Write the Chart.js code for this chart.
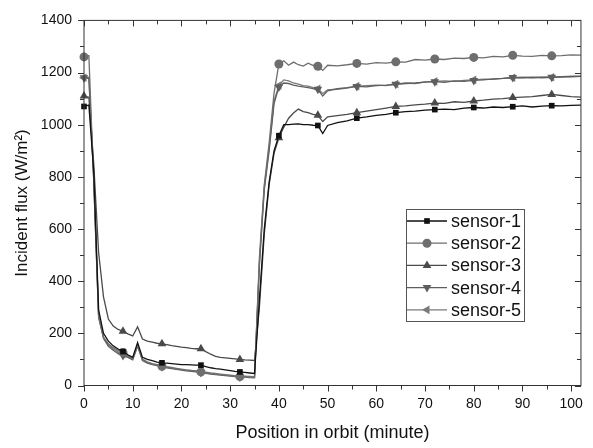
<!DOCTYPE html>
<html>
<head>
<meta charset="utf-8">
<script src="https://cdn.jsdelivr.net/npm/chart.js@4/dist/chart.umd.min.js"></script>
<style>
  html, body { margin: 0; background: #fff; }
  #wrap { width: 593px; height: 448px; }
</style>
</head>
<body>
<div id="wrap"><canvas id="chart"></canvas></div>
<script>
// position in orbit (minute)
const minutes = [0,1,2,3,4,5,6,7,8,9,10,11,12,13,14,15,16,17,18,19,20,21,22,23,24,25,26,27,28,29,30,31,32,33,34,35,36,37,38,39,40,
  41,42,43,44,45,46,47,48,49,50,52,54,56,58,60,62,64,66,68,70,72,74,76,78,80,82,84,86,88,90,92,94,96,98,100,102];

const sensor1 = [1070,1075,820,290,200,170,152,140,130,118,108,165,108,100,95,90,87,86,84,82,80,80,79,78,78,72,68,65,63,60,57,54,52,50,48,46,330,600,780,900,958,
  1000,1000,1002,1003,1000,1000,998,997,966,997,1008,1015,1025,1030,1036,1040,1046,1050,1052,1056,1058,1060,1058,1064,1066,1064,1068,1066,1069,1072,1068,1071,1073,1072,1074,1075];
const sensor2 = [1260,1265,780,260,185,160,145,135,127,115,103,155,100,90,83,78,74,70,67,64,61,59,57,55,52,49,46,44,42,40,38,36,34,33,32,31,490,770,930,1120,1233,
  1245,1228,1240,1230,1225,1236,1228,1224,1208,1228,1226,1230,1235,1232,1238,1236,1241,1240,1250,1248,1252,1250,1255,1254,1258,1256,1262,1260,1266,1263,1262,1266,1264,1265,1268,1267];
const sensor3 = [1110,1105,850,510,340,255,228,215,208,198,190,225,178,170,166,162,160,157,153,150,147,145,142,141,141,130,120,112,108,106,104,102,100,98,97,96,300,580,770,890,950,
  990,1025,1045,1060,1050,1046,1040,1036,1012,1030,1035,1040,1046,1052,1058,1064,1070,1072,1076,1079,1083,1082,1088,1086,1091,1094,1098,1100,1104,1106,1108,1112,1116,1112,1108,1106];
const sensor4 = [1180,1178,790,265,180,150,135,122,115,108,98,150,96,86,80,76,72,68,65,62,59,56,54,52,50,47,44,42,40,38,36,34,33,32,30,29,460,750,900,1080,1145,
  1160,1158,1152,1148,1145,1142,1138,1136,1110,1130,1138,1142,1147,1145,1150,1152,1155,1158,1160,1163,1165,1162,1168,1166,1170,1172,1176,1178,1181,1180,1182,1180,1182,1183,1184,1185];
const sensor5 = [1180,1182,800,270,185,155,140,128,120,112,102,158,100,90,84,80,76,72,69,66,63,60,58,56,54,51,48,46,44,42,40,38,37,36,35,34,470,760,910,1090,1150,
  1172,1168,1160,1156,1150,1148,1142,1138,1120,1134,1136,1140,1148,1150,1152,1150,1156,1160,1158,1164,1166,1168,1166,1170,1172,1175,1174,1178,1180,1182,1180,1183,1182,1184,1186,1186];

const seriesNames = ['sensor-1', 'sensor-2', 'sensor-3', 'sensor-4', 'sensor-5'];
const xTicks = [0, 10, 20, 30, 40, 50, 60, 70, 80, 90, 100];
const yTicks = [0, 200, 400, 600, 800, 1000, 1200, 1400];

const FONT = "'Liberation Sans', Arial, Helvetica, sans-serif";
const styles = [
  { color: '#111111', pointStyle: 'rect', rotation: 0, radius: 4 },
  { color: '#6e6e6e', pointStyle: 'circle', rotation: 0, radius: 4.5 },
  { color: '#4a4a4a', pointStyle: 'triangle', rotation: 0, radius: 5 },
  { color: '#5e5e5e', pointStyle: 'triangle', rotation: 180, radius: 5 },
  { color: '#7a7a7a', pointStyle: 'triangle', rotation: -90, radius: 5 }
];

function markerRadius(r) {
  return function(ctx) {
    const x = ctx.raw && ctx.raw.x;
    return (x % 8 === 0 && x <= 96) ? r : 0;
  };
}

const allSeries = [sensor1, sensor2, sensor3, sensor4, sensor5];
const datasets = allSeries.map((vals, i) => ({
  label: seriesNames[i],
  data: minutes.map((m, j) => ({ x: m, y: vals[j] })),
  borderColor: styles[i].color,
  backgroundColor: styles[i].color,
  borderWidth: 1.3,
  pointStyle: styles[i].pointStyle,
  pointRotation: styles[i].rotation,
  pointRadius: markerRadius(styles[i].radius),
  pointHoverRadius: 0,
  pointBorderWidth: 0,
  tension: 0,
  clip: false
}));

// frame with inward/outward ticks (minor ticks included)
const framePlugin = {
  id: 'frame',
  afterDatasetsDraw(chart) {
    const { ctx, chartArea: a, scales } = chart;
    ctx.save();
    ctx.strokeStyle = '#333';
    ctx.lineWidth = 1;
    ctx.strokeRect(a.left, a.top, a.right - a.left, a.bottom - a.top);
    ctx.beginPath();
    for (let v = 0; v <= 100; v += 5) {
      const px = Math.round(scales.x.getPixelForValue(v)) + 0.5;
      const len = v % 10 === 0 ? 6 : 4;
      ctx.moveTo(px, a.bottom); ctx.lineTo(px, a.bottom + len);
      ctx.moveTo(px, a.top); ctx.lineTo(px, a.top + len);
    }
    for (let v = 0; v <= 1400; v += 100) {
      const py = Math.round(scales.y.getPixelForValue(v)) + 0.5;
      const len = v % 200 === 0 ? 6 : 4;
      ctx.moveTo(a.left, py); ctx.lineTo(a.left - len, py);
      ctx.moveTo(a.right, py); ctx.lineTo(a.right - len, py);
    }
    ctx.stroke();
    ctx.restore();
  }
};

// legend box inside the plot
const legendPlugin = {
  id: 'boxLegend',
  afterDraw(chart) {
    const { ctx } = chart;
    const left = 406, top = 209, w = 118, rowH = 22.2;
    ctx.save();
    ctx.strokeStyle = '#555';
    ctx.lineWidth = 1;
    ctx.fillStyle = '#fff';
    ctx.fillRect(left, top, w, rowH * 5 + 1);
    ctx.strokeRect(left + 0.5, top + 0.5, w, rowH * 5 + 1);
    ctx.font = '18px ' + FONT;
    ctx.textBaseline = 'middle';
    chart.data.datasets.forEach((ds, i) => {
      const y = top + 12 + i * rowH;
      ctx.strokeStyle = ds.borderColor;
      ctx.lineWidth = 1.3;
      ctx.beginPath();
      ctx.moveTo(left + 1, y); ctx.lineTo(left + 41, y);
      ctx.stroke();
      ctx.fillStyle = ds.borderColor;
      Chart.helpers.drawPoint(ctx, {
        pointStyle: ds.pointStyle, rotation: ds.pointRotation,
        radius: styles[i].radius, borderWidth: 0
      }, left + 21, y);
      ctx.fillStyle = '#111';
      ctx.fillText(ds.label, left + 45, y + 1);
    });
    ctx.restore();
  }
};

new Chart(document.getElementById('chart'), {
  type: 'line',
  data: { datasets },
  options: {
    responsive: true,
    maintainAspectRatio: false,
    animation: false,
    layout: { padding: { top: 13, right: 6, left: 0, bottom: 0 } },
    plugins: { legend: { display: false }, tooltip: { enabled: false } },
    scales: {
      x: {
        type: 'linear', min: 0, max: 102,
        grid: { display: false, drawTicks: false },
        border: { display: false },
        afterBuildTicks: s => { s.ticks = xTicks.map(v => ({ value: v })); },
        afterFit: s => { s.height = 62.5; },
        ticks: { color: '#111', padding: 10, maxRotation: 0, font: { family: FONT, size: 14 },
                 callback: v => String(v) },
        title: { display: true, text: 'Position in orbit (minute)', color: '#111',
                 padding: { top: 0, bottom: 4 }, font: { family: FONT, size: 18 } }
      },
      y: {
        min: 0, max: 1400,
        grid: { display: false, drawTicks: false },
        border: { display: false },
        afterBuildTicks: s => { s.ticks = yTicks.map(v => ({ value: v })); },
        afterFit: s => { s.width = 84; },
        ticks: { color: '#111', padding: 12, font: { family: FONT, size: 14 },
                 callback: v => String(v) },
        title: { display: true, text: 'Incident flux (W/m²)', color: '#111',
                 padding: { top: 12, bottom: 0 }, font: { family: FONT, size: 17 } }
      }
    }
  },
  plugins: [framePlugin, legendPlugin]
});
</script>
</body>
</html>
